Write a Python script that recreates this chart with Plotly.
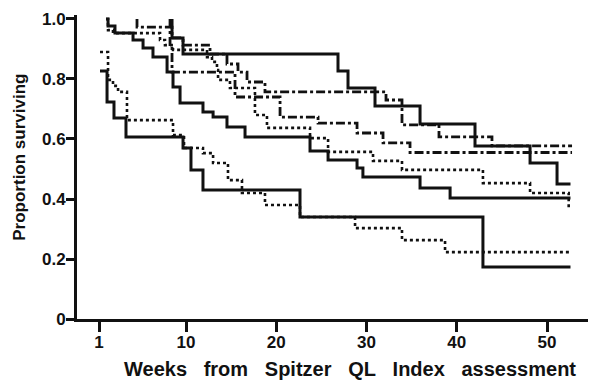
import plotly.graph_objects as go

# ---- data (weeks, proportion surviving) ----
# solid curves
solid_a_weeks = [8.45, 8.45, 9.67, 26.84, 27.95, 30.94, 35.93, 42.02, 48.12, 51.11, 52.6]
solid_a_surv = [1.0, 0.937, 0.883, 0.827, 0.77, 0.71, 0.65, 0.577, 0.52, 0.45, 0.45]

solid_b_weeks = [1.14, 1.36, 2.13, 4.13, 5.24, 6.34, 7.9, 8.56, 9.34, 11.88, 13.0,
                 14.54, 16.54, 23.74, 25.74, 28.95, 29.6, 35.93, 39.26, 52.6]
solid_b_surv = [1.0, 0.977, 0.953, 0.93, 0.903, 0.873, 0.823, 0.773, 0.72, 0.69, 0.673,
                0.64, 0.607, 0.56, 0.53, 0.503, 0.473, 0.437, 0.403, 0.403]

solid_c_weeks = [0.47, 1.25, 2.02, 3.35, 9.67, 10.55, 11.88, 22.63, 42.9, 52.6]
solid_c_surv = [0.827, 0.723, 0.67, 0.607, 0.57, 0.497, 0.43, 0.34, 0.173, 0.173]

# dotted curves
dot_a_weeks = [1.14, 1.36, 1.91, 7.12, 7.67, 8.56, 12.33, 12.88, 13.43, 13.55, 14.87,
               17.64, 18.97, 23.74, 25.74, 30.72, 33.93, 42.9, 48.12, 52.4, 52.6]
dot_a_surv = [1.0, 0.963, 0.953, 0.93, 0.913, 0.897, 0.873, 0.857, 0.83, 0.797, 0.77,
              0.68, 0.637, 0.603, 0.557, 0.527, 0.497, 0.453, 0.42, 0.37, 0.37]

dot_b_weeks = [0.47, 1.36, 1.91, 2.47, 3.46, 8.56, 9.78, 11.88, 13.0, 14.65, 16.2,
               18.75, 22.63, 28.73, 33.93, 38.7, 52.6]
dot_b_surv = [0.89, 0.797, 0.777, 0.757, 0.663, 0.613, 0.57, 0.553, 0.52, 0.463, 0.42,
              0.38, 0.34, 0.303, 0.263, 0.223, 0.223]

# dash-dot curves
dd_a_weeks = [4.57, 4.57, 8.45, 9.67, 12.66, 14.54, 15.76, 16.76, 18.75, 32.16, 33.93,
              38.03, 43.9, 52.77]
dd_a_surv = [1.0, 0.973, 0.937, 0.913, 0.883, 0.85, 0.823, 0.79, 0.757, 0.73, 0.647,
             0.607, 0.577, 0.577]

dd_b_weeks = [8.23, 8.23, 8.45, 15.43, 20.42, 24.63, 28.95, 31.83, 34.82, 52.77]
dd_b_surv = [1.0, 0.907, 0.823, 0.74, 0.673, 0.653, 0.62, 0.587, 0.555, 0.555]

x_tick_vals = [0.36, 10, 20, 30, 40, 50]
x_tick_text = ["1", "10", "20", "30", "40", "50"]
y_tick_vals = [0, 0.2, 0.4, 0.6, 0.8, 1.0]
y_tick_text = ["0", "0.2", "0.4", "0.6", "0.8", "1.0"]

x_title_words = ["Weeks", "from", "Spitzer", "QL", "Index", "assessment"]
y_title = "Proportion surviving"

FONT = "Liberation Sans, Arial, Helvetica, sans-serif"
INK = "#111111"

fig = go.Figure()


def add(weeks, surv, dash, width):
    fig.add_trace(go.Scatter(
        x=weeks, y=surv, mode="lines",
        line=dict(shape="hv", color=INK, width=width, dash=dash),
        hoverinfo="skip", showlegend=False))


DOT = "3px,3px"
DASHDOT = "9px,3px,3px,3px"

add(dot_a_weeks, dot_a_surv, DOT, 2.6)
add(dot_b_weeks, dot_b_surv, DOT, 2.6)
add(dd_a_weeks, dd_a_surv, DASHDOT, 2.8)
add(dd_b_weeks, dd_b_surv, DASHDOT, 2.8)
add(solid_a_weeks, solid_a_surv, "solid", 3)
add(solid_b_weeks, solid_b_surv, "solid", 3)
add(solid_c_weeks, solid_c_surv, "solid", 3)

# wide word spacing as in the typeset original
x_title = "\u00a0\u00a0 ".join(x_title_words)

fig.update_layout(
    width=590, height=380, autosize=False,
    margin=dict(l=77, r=2, t=15, b=61),
    paper_bgcolor="white", plot_bgcolor="white",
    font=dict(family=FONT, color=INK),
    showlegend=False,
    xaxis=dict(range=[-2.078, 54.54], showline=True, linewidth=3, linecolor=INK,
               ticks="outside", ticklen=10, tickwidth=3, tickcolor=INK,
               tickvals=x_tick_vals, ticktext=x_tick_text,
               tickfont=dict(size=17, family=FONT, color=INK, weight="bold"),
               ticklabelstandoff=-4,
               showgrid=False, zeroline=False, fixedrange=True, automargin=False),
    yaxis=dict(range=[0, 1.0133], showline=True, linewidth=3, linecolor=INK,
               ticks="outside", ticklen=8, tickwidth=3, tickcolor=INK,
               tickvals=y_tick_vals, ticktext=y_tick_text,
               tickfont=dict(size=17, family=FONT, color=INK, weight="bold"),
               ticklabelstandoff=-3,
               showgrid=False, zeroline=False, fixedrange=True, automargin=False),
    annotations=[
        dict(text=x_title, xref="paper", yref="paper", x=0.534, y=-0.165,
             xanchor="center", yanchor="middle", showarrow=False,
             font=dict(size=20, family=FONT, color=INK, weight="bold")),
        dict(text=y_title, xref="paper", yref="paper", x=-0.112, y=0.533,
             xanchor="center", yanchor="middle", textangle=-90, showarrow=False,
             font=dict(size=17, family=FONT, color=INK, weight="bold")),
    ],
)

fig.write_html("out.html", config={"displayModeBar": False},
               post_script="document.body.style.margin='0';document.body.style.overflow='hidden';")
